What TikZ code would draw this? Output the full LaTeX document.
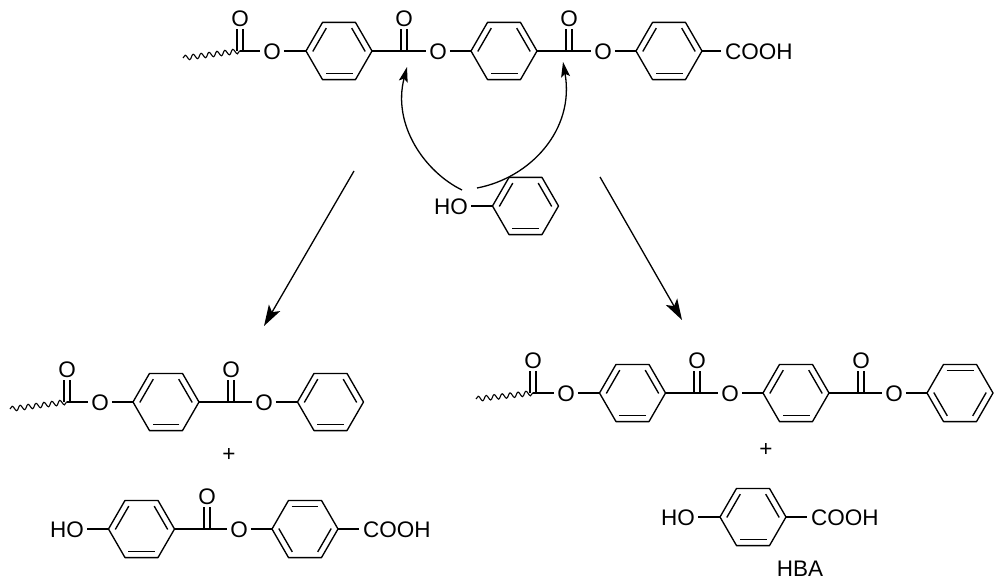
\documentclass[tikz,border=0pt]{standalone}
\usepackage{fontspec}
\setmainfont{Liberation Sans}
\usetikzlibrary{arrows.meta, decorations.pathmorphing}

\tikzset{
  bond/.style={line width=1.35pt, line join=round},
  wavy/.style={line width=1.1pt, decorate, decoration={snake, amplitude=2.5pt, segment length=8pt, pre length=0pt, post length=0pt}},
  atom/.style={font=\fontsize{22.5}{25}\selectfont, inner sep=3pt, text height=16.5pt, text depth=0pt},
  bigarrow/.style={line width=1.3pt, -{Stealth[length=21pt, width=13pt, inset=5pt]}},
  curlarrow/.style={line width=1.3pt, -{Stealth[length=15pt, width=9pt, inset=3pt]}}
}

% ring: name, x, y, angles of the three inner bonds
\newcommand{\benzene}[4]{
  \begin{scope}[shift={(#2,#3)}]
    \coordinate (#1l) at (180:33);
    \coordinate (#1r) at (0:33);
    \draw[bond] (0:33) -- (60:33) -- (120:33) -- (180:33) -- (240:33) -- (300:33) -- cycle;
    \foreach \a in {#4} \draw[bond] (\a-31:26.2) -- (\a+31:26.2);
  \end{scope}
}
% C=O: name, x, y
\newcommand{\carbonyl}[3]{
  \coordinate (#1) at (#2,#3);
  \node[atom] (#1o) at (#2,#3-33) {O};
  \draw[bond] ([xshift=-3pt]#1) -- ([xshift=-3pt]#1o.south);
  \draw[bond] ([xshift=3pt]#1) -- ([xshift=3pt]#1o.south);
}

\begin{document}
\begin{tikzpicture}[x=1pt, y=-1pt]
  \useasboundingbox (0,0) rectangle (1000,583);

  % top chain
  \coordinate (t0) at (183,58);
  \carbonyl{tc1}{240}{51}
  \node[atom] (to1) at (272,51) {O};
  \benzene{tr1}{339}{51}{90,210,330}
  \carbonyl{tc2}{404}{51}
  \node[atom] (to2) at (438,51) {O};
  \benzene{tr2}{504}{51}{90,210,330}
  \carbonyl{tc3}{569}{51}
  \node[atom] (to3) at (603,51) {O};
  \benzene{tr3}{669}{51}{90,210,330}
  \node[atom, anchor=west, inner sep=0pt] (tcooh) at (725,51) {COOH};
  \draw[wavy] (t0) -- (tc1);
  \draw[bond] (tc1) -- (to1) -- (tr1l);
  \draw[bond] (tr1r) -- (tc2) -- (to2) -- (tr2l);
  \draw[bond] (tr2r) -- (tc3) -- (to3) -- (tr3l);
  \draw[bond] (tr3r) -- ([xshift=-4pt]tcooh.west);

  % phenol and curved arrows
  \benzene{pr}{525.5}{206}{90,210,330}
  \node[atom, anchor=east, inner sep=0pt] (pho) at (468,206) {HO};
  \draw[bond] ([xshift=3pt]pho.east) -- (prl);
  \coordinate (a1s) at (462,190);
  \coordinate (a1e) at (407,67);
  \coordinate (a2s) at (477,188);
  \coordinate (a2e) at (563,62);
  \draw[curlarrow] (a1s) .. controls (425,172) and (392,125) .. (a1e);
  \draw[curlarrow] (a2s) .. controls (530,178) and (575,130) .. (a2e);

  % reaction arrows
  \coordinate (la) at (354,171);
  \coordinate (lb) at (264,326);
  \coordinate (ra) at (600,177);
  \coordinate (rb) at (682,320);
  \draw[bigarrow] (la) -- (lb);
  \draw[bigarrow] (ra) -- (rb);

  % lower left products
  \coordinate (l0) at (10,409);
  \carbonyl{lc1}{67}{402}
  \node[atom] (lo1) at (100,402) {O};
  \benzene{lr1}{166}{402}{90,210,330}
  \carbonyl{lc2}{231}{402}
  \node[atom] (lo2) at (264,402) {O};
  \benzene{lr2}{330.5}{402}{90,210,330}
  \draw[wavy] (l0) -- (lc1);
  \draw[bond] (lc1) -- (lo1) -- (lr1l);
  \draw[bond] (lr1r) -- (lc2) -- (lo2) -- (lr2l);
  \node[atom, inner sep=0pt] (lplus) at (229,453) {+};

  \node[atom, anchor=east, inner sep=0pt] (mho) at (84,529) {HO};
  \benzene{mr1}{141.5}{529}{90,210,330}
  \carbonyl{mc}{207}{529}
  \node[atom] (mo) at (239,529) {O};
  \benzene{mr2}{305}{529}{30,150,270}
  \node[atom, anchor=west, inner sep=0pt] (mcooh) at (363,529) {COOH};
  \draw[bond] ([xshift=3pt]mho.east) -- (mr1l);
  \draw[bond] (mr1r) -- (mc) -- (mo) -- (mr2l);
  \draw[bond] (mr2r) -- ([xshift=-4pt]mcooh.west);

  % lower right products
  \coordinate (r0) at (476,399);
  \carbonyl{rc1}{533}{393}
  \node[atom] (ro1) at (566,393) {O};
  \benzene{rr1}{632.5}{393}{90,210,330}
  \carbonyl{rc2}{697}{393}
  \node[atom] (ro2) at (730,393) {O};
  \benzene{rr2}{796}{393}{90,210,330}
  \carbonyl{rc3}{861}{393}
  \node[atom] (ro3) at (894,393) {O};
  \benzene{rr3}{960}{393}{30,150,270}
  \draw[wavy] (r0) -- (rc1);
  \draw[bond] (rc1) -- (ro1) -- (rr1l);
  \draw[bond] (rr1r) -- (rc2) -- (ro2) -- (rr2l);
  \draw[bond] (rr2r) -- (rc3) -- (ro3) -- (rr3l);
  \node[atom, inner sep=0pt] (rplus) at (766,448) {+};

  \node[atom, anchor=east, inner sep=0pt] (hho) at (695,517) {HO};
  \benzene{hr}{753}{517}{90,210,330}
  \node[atom, anchor=west, inner sep=0pt] (hcooh) at (811,517) {COOH};
  \draw[bond] ([xshift=3pt]hho.east) -- (hrl);
  \draw[bond] (hrr) -- ([xshift=-4pt]hcooh.west);
  \node[atom, inner sep=0pt] (hba) at (800,568) {HBA};
\end{tikzpicture}
\end{document}
